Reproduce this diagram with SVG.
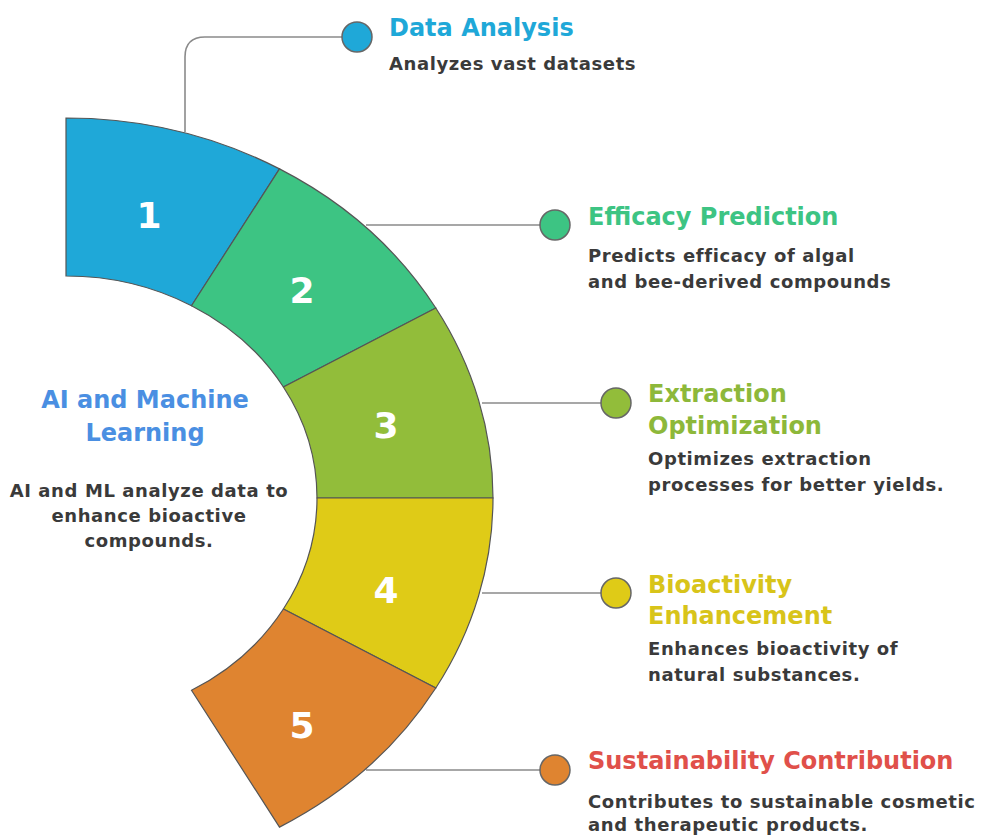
<svg xmlns="http://www.w3.org/2000/svg" width="982" height="836" viewBox="0 0 982 836">
  <style>
    .seg { stroke: #555; stroke-width: 1.2; }
    .num { font-family: "DejaVu Sans", "Liberation Sans", sans-serif; font-weight: 700; font-size: 36px; fill: #fff; text-anchor: middle; }
    .title { font-family: "DejaVu Sans", "Liberation Sans", sans-serif; font-weight: 700; font-size: 24px; }
    .desc { font-family: "DejaVu Sans", "Liberation Sans", sans-serif; font-weight: 700; font-size: 18px; fill: #3a3a3a; letter-spacing: 0.6px; }
    .wire { fill: none; stroke: #8a8a8a; stroke-width: 1.6; }
    .dot { stroke: #666; stroke-width: 1.5; }
  </style>

  <!-- connectors from the ring to the label dots -->
  <g id="connectors">
    <path class="wire" d="M185,132 V57 Q185,37 205,37 H342"/>
    <line class="wire" x1="366" y1="225" x2="541" y2="225"/>
    <line class="wire" x1="482" y1="403" x2="601" y2="403"/>
    <line class="wire" x1="482" y1="593" x2="601" y2="593"/>
    <line class="wire" x1="366" y1="770" x2="541" y2="770"/>
  </g>

  <!-- ring segments: elliptical band centred at (66,498) -->
  <g id="step1">
    <path class="seg" fill="#1FA8D8" d="M66,118 A427,380 0 0 1 279.5,168.9 L191.5,305.7 A251,222 0 0 0 66,276 Z"/>
    <text class="num" x="149" y="228">1</text>
  </g>
  <g id="step2">
    <path class="seg" fill="#3DC483" d="M279.5,168.9 A427,380 0 0 1 435.8,308 L283.4,387 A251,222 0 0 0 191.5,305.7 Z"/>
    <text class="num" x="302" y="303">2</text>
  </g>
  <g id="step3">
    <path class="seg" fill="#92BD3A" d="M435.8,308 A427,380 0 0 1 493,498 L317,498 A251,222 0 0 0 283.4,387 Z"/>
    <text class="num" x="386" y="438">3</text>
  </g>
  <g id="step4">
    <path class="seg" fill="#DFCB17" d="M493,498 A427,380 0 0 1 435.8,688 L283.4,609 A251,222 0 0 0 317,498 Z"/>
    <text class="num" x="386" y="603">4</text>
  </g>
  <g id="step5">
    <path class="seg" fill="#DF8430" d="M435.8,688 A427,380 0 0 1 279.5,827.1 L191.5,690.3 A251,222 0 0 0 283.4,609 Z"/>
    <text class="num" x="302" y="738">5</text>
  </g>

  <!-- centre label -->
  <g id="center">
    <text class="title" fill="#4A8FE2" text-anchor="middle" x="145" y="408" font-size="23">AI and Machine</text>
    <text class="title" fill="#4A8FE2" text-anchor="middle" x="145" y="441" font-size="23">Learning</text>
    <text class="desc" text-anchor="middle" x="149" y="497">AI and ML analyze data to</text>
    <text class="desc" text-anchor="middle" x="149" y="522">enhance bioactive</text>
    <text class="desc" text-anchor="middle" x="149" y="547">compounds.</text>
  </g>

  <!-- side labels -->
  <g id="label1">
    <circle class="dot" cx="357" cy="37" r="15" fill="#1FA8D8"/>
    <text class="title" fill="#1FA8D8" x="389" y="36">Data Analysis</text>
    <text class="desc" x="389" y="70">Analyzes vast datasets</text>
  </g>
  <g id="label2">
    <circle class="dot" cx="555" cy="225" r="15" fill="#3DC483"/>
    <text class="title" fill="#3DC483" x="588" y="225">Efficacy Prediction</text>
    <text class="desc" x="588" y="262">Predicts efficacy of algal</text>
    <text class="desc" x="588" y="288">and bee-derived compounds</text>
  </g>
  <g id="label3">
    <circle class="dot" cx="616" cy="403" r="15" fill="#92BD3A"/>
    <text class="title" fill="#8DB83A" x="648" y="402">Extraction</text>
    <text class="title" fill="#8DB83A" x="648" y="434">Optimization</text>
    <text class="desc" x="648" y="465">Optimizes extraction</text>
    <text class="desc" x="648" y="491">processes for better yields.</text>
  </g>
  <g id="label4">
    <circle class="dot" cx="616" cy="593" r="15" fill="#DFCB17"/>
    <text class="title" fill="#D8C41A" x="648" y="593">Bioactivity</text>
    <text class="title" fill="#D8C41A" x="648" y="624">Enhancement</text>
    <text class="desc" x="648" y="655">Enhances bioactivity of</text>
    <text class="desc" x="648" y="681">natural substances.</text>
  </g>
  <g id="label5">
    <circle class="dot" cx="555" cy="770" r="15" fill="#DF8430"/>
    <text class="title" fill="#E0504A" x="588" y="769">Sustainability Contribution</text>
    <text class="desc" x="588" y="808">Contributes to sustainable cosmetic</text>
    <text class="desc" x="588" y="831">and therapeutic products.</text>
  </g>
</svg>
